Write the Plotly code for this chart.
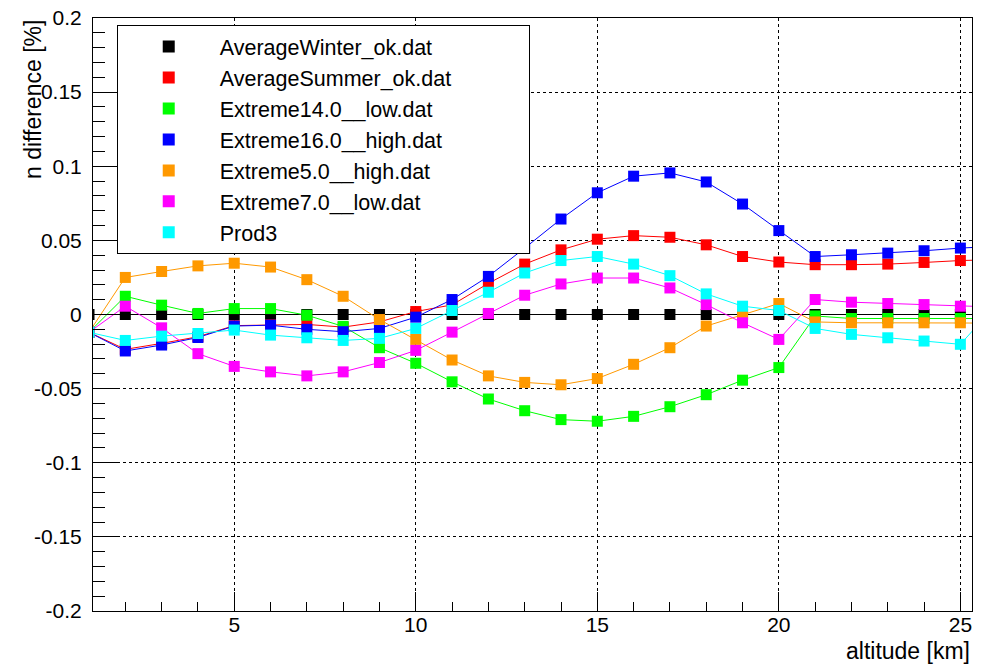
import plotly.graph_objects as go

# ---- data ----
altitude = [1, 2, 3, 4, 5, 6, 7, 8, 9, 10, 11, 12, 13, 14, 15, 16, 17, 18, 19, 20, 21, 22, 23, 24, 25, 26]

avg_winter = [0.0, 0.0, 0.0, 0.0, 0.0, 0.0, 0.0, 0.0, 0.0, 0.0, 0.0, 0.0, 0.0,
              0.0, 0.0, 0.0, 0.0, 0.0, 0.0, 0.0, 0.0, 0.0, 0.0, 0.0, 0.0, 0.0]
avg_summer = [-0.012, -0.0235, -0.0195, -0.015, -0.0075, -0.007, -0.0067, -0.0085, -0.005, 0.002,
              0.0065, 0.021, 0.034, 0.0436, 0.0508, 0.0532, 0.0521, 0.047, 0.0391, 0.0354,
              0.0336, 0.0336, 0.034, 0.0351, 0.0364, 0.037]
ext14_low = [-0.012, 0.0123, 0.0063, 0.0007, 0.004, 0.004, -0.0005, -0.008, -0.0224, -0.0329,
             -0.0454, -0.057, -0.0649, -0.0709, -0.072, -0.0687, -0.0622, -0.0541, -0.0443, -0.0358,
             -0.001, -0.0027, -0.0027, -0.0027, -0.0027, -0.0027]
ext16_high = [-0.012, -0.0246, -0.0206, -0.0155, -0.0078, -0.0072, -0.010, -0.0116, -0.0094, -0.0018,
              0.0101, 0.0257, 0.0448, 0.0644, 0.0821, 0.0933, 0.0955, 0.0894, 0.0745, 0.0566,
              0.0391, 0.0403, 0.0414, 0.043, 0.0448, 0.046]
ext5_high = [-0.012, 0.025, 0.029, 0.0328, 0.0346, 0.032, 0.0235, 0.0123, -0.0034, -0.0168,
             -0.0307, -0.0414, -0.0458, -0.0474, -0.0432, -0.0336, -0.0224, -0.0078, 0.0, 0.0074,
             -0.005, -0.0056, -0.0056, -0.0056, -0.0056, -0.0058]
ext7_low = [-0.012, 0.0056, -0.009, -0.0264, -0.035, -0.0387, -0.0414, -0.0387, -0.0324, -0.0242,
            -0.0119, 0.0007, 0.013, 0.0206, 0.0246, 0.0246, 0.0179, 0.0067, -0.0056, -0.0168,
            0.0101, 0.0083, 0.0074, 0.0067, 0.0056, 0.005]
prod3 = [-0.012, -0.0175, -0.0146, -0.0128, -0.0105, -0.0139, -0.0157, -0.0175, -0.0161, -0.0094,
         0.0027, 0.015, 0.028, 0.0364, 0.0391, 0.034, 0.0262, 0.0139, 0.0056, 0.0027,
         -0.0094, -0.0134, -0.0157, -0.0179, -0.0201, 0.007]

series_names = ["AverageWinter_ok.dat", "AverageSummer_ok.dat", "Extreme14.0__low.dat",
                "Extreme16.0__high.dat", "Extreme5.0__high.dat", "Extreme7.0__low.dat", "Prod3"]
series_values = [avg_winter, avg_summer, ext14_low, ext16_high, ext5_high, ext7_low, prod3]
series_colors = ["#000000", "#ff0000", "#00ff00", "#0000ff", "#ff9900", "#ff00ff", "#00ffff"]

ytick_vals = [-0.2, -0.15, -0.1, -0.05, 0, 0.05, 0.1, 0.15, 0.2]
ytick_text = ["-0.2", "-0.15", "-0.1", "-0.05", "0", "0.05", "0.1", "0.15", "0.2"]
xtick_vals = [5, 10, 15, 20, 25]
xtick_text = ["5", "10", "15", "20", "25"]

FONT = "Liberation Sans, Arial, Helvetica, sans-serif"
LEGEND_PAD = "\u00a0" * 12  # trailing blank room inside the legend box, as in the reference

fig = go.Figure()
for i, (name, vals, col) in enumerate(zip(series_names, series_values, series_colors)):
    fig.add_trace(go.Scatter(
        x=altitude, y=vals, mode="lines+markers", name=name, showlegend=False,
        line=dict(color=col, width=1),
        marker=dict(symbol="square", size=11, color=col, line=dict(width=0)),
    ))
# legend entries (marker only, like ROOT "p" option)
for i, (name, col) in enumerate(zip(series_names, series_colors)):
    fig.add_trace(go.Scatter(
        x=[None], y=[None], mode="markers", name=name + LEGEND_PAD, legendgroup=f"g{i}",
        marker=dict(symbol="square", size=12, color=col, line=dict(width=0)),
    ))

fig.update_layout(
    width=986, height=665,
    margin=dict(l=93, r=14, t=18, b=54, autoexpand=False),
    paper_bgcolor="white", plot_bgcolor="white",
    font=dict(family=FONT, color="black", size=21),
    showlegend=True,
    legend=dict(
        x=0.027, y=0.988, xanchor="left", yanchor="top",
        bgcolor="white", bordercolor="black", borderwidth=1,
        font=dict(family=FONT, size=21.5, color="black"),
        itemwidth=92, itemsizing="constant", tracegroupgap=0,
        traceorder="normal",
    ),
    xaxis=dict(
        range=[1.11, 25.32], showline=True, mirror=True, linecolor="black", linewidth=1,
        tickmode="array", tickvals=xtick_vals, ticktext=xtick_text,
        ticks="inside", ticklen=19, tickcolor="black", tickwidth=1,
        showgrid=True, gridcolor="black", griddash="dot", gridwidth=1,
        zeroline=False, automargin=False,
        tickfont=dict(family=FONT, size=21),
        ticklabelstandoff=-5,
        minor=dict(dtick=1, tick0=0, ticks="inside", ticklen=9, tickcolor="black", showgrid=False),
    ),
    yaxis=dict(
        range=[-0.2, 0.2], showline=True, mirror=True, linecolor="black", linewidth=1,
        tickmode="array", tickvals=ytick_vals, ticktext=ytick_text,
        ticks="inside", ticklen=24, tickcolor="black", tickwidth=1,
        showgrid=True, gridcolor="black", griddash="dot", gridwidth=1,
        zeroline=False, automargin=False,
        tickfont=dict(family=FONT, size=21),
        ticklabelstandoff=6,
        minor=dict(dtick=0.01, tick0=0, ticks="inside", ticklen=12, tickcolor="black", showgrid=False),
    ),
    annotations=[
        dict(text="altitude [km]", xref="paper", yref="paper", x=1.0, y=-0.0675,
             xanchor="right", yanchor="middle", showarrow=False,
             font=dict(family=FONT, size=23, color="black")),
        dict(text="n difference [%]", xref="paper", yref="paper", x=-0.0688, y=1.0,
             xanchor="center", yanchor="top", textangle=-90, showarrow=False,
             font=dict(family=FONT, size=23, color="black")),
    ],
)

fig.write_html("out.html", config={"displayModeBar": False},
               post_script="document.body.style.margin='0';document.body.style.overflow='hidden';")
